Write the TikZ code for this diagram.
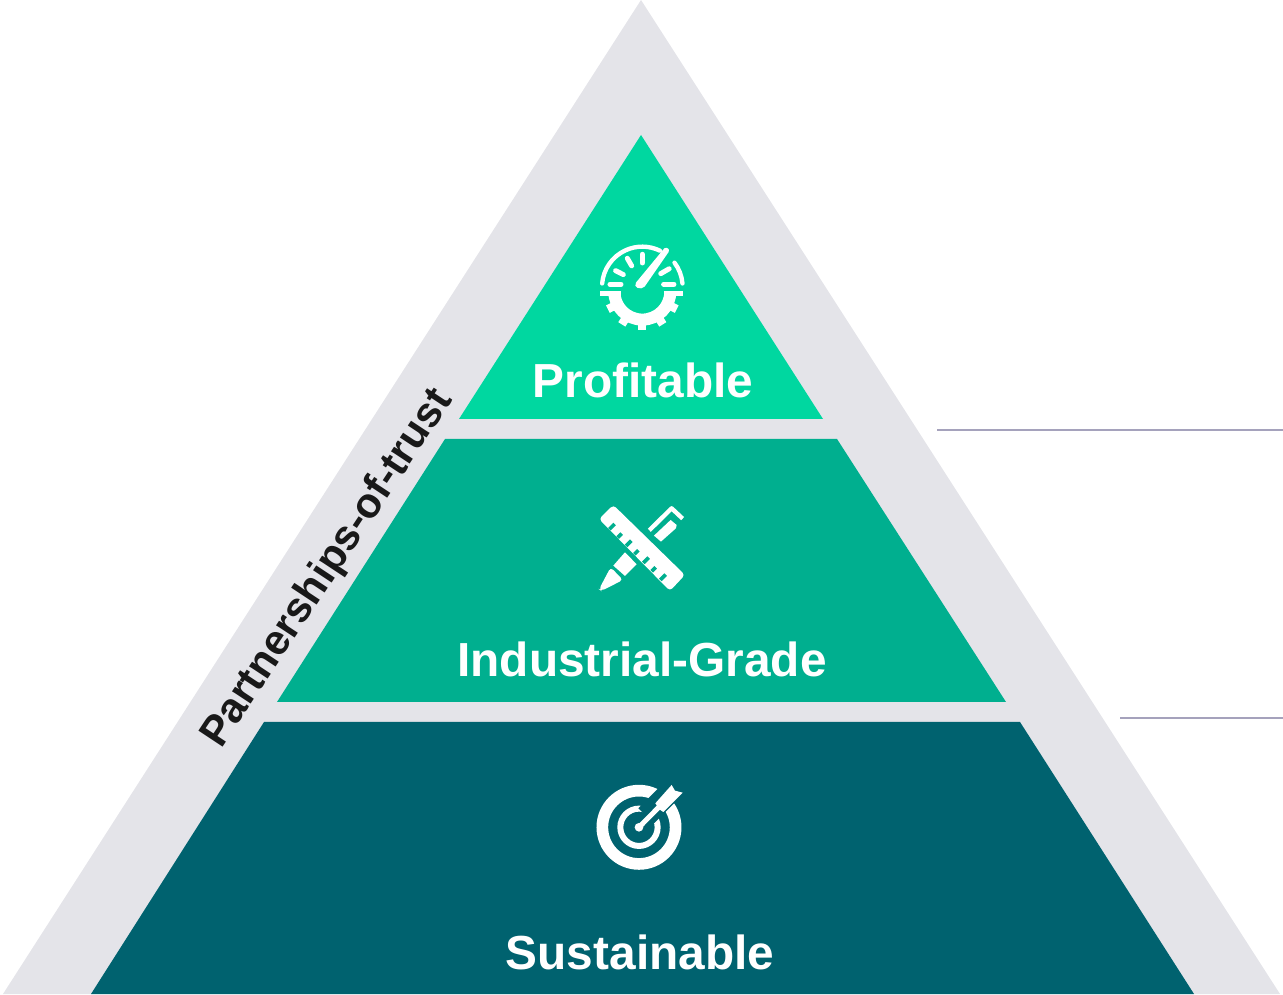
\documentclass[tikz,border=0pt]{standalone}
\usepackage{fontspec}
\setmainfont{Liberation Sans}
\definecolor{pyramidgray}{HTML}{E4E4E9}
\definecolor{topgreen}{HTML}{00D7A0}
\definecolor{midgreen}{HTML}{00AF8F}
\definecolor{lowteal}{HTML}{00626F}
\definecolor{leaderline}{HTML}{A5A2BC}
\tikzset{
	levellabel/.style={text=white, font=\bfseries\fontsize{13.6pt}{16pt}\selectfont, inner sep=0pt, anchor=base},
	sidelabel/.style={text=black!90, font=\bfseries\fontsize{12pt}{15pt}\selectfont, inner sep=0pt, rotate=56.5},
	icon/.style={x=0.01cm/3, y=-0.01cm/3},
	zw/.style={line width=#1*0.0949pt}
}
\begin{document}
\begin{tikzpicture}
		%%%%% START %%%%%
		\useasboundingbox (0, 0) rectangle (12.83, 9.94);
		
		\fill[pyramidgray] (0.03, 0) -- (6.41, 9.94) -- (12.80, 0) -- cycle;
		
		\fill[topgreen] (6.41, 8.59) -- (8.23, 5.75) -- (4.59, 5.75) -- cycle;
		\fill[midgreen] (4.45, 5.55) -- (8.37, 5.55) -- (10.06, 2.92) -- (2.77, 2.92) -- cycle;
		\fill[lowteal] (2.64, 2.72) -- (10.20, 2.72) -- (11.94, 0) -- (0.91, 0) -- cycle;
		
		\node[levellabel] (profitable) at (6.43, 5.96) {Profitable};
		\node[levellabel] (industrial) at (6.42, 3.17) {Industrial-Grade};
		\node[levellabel] (sustainable) at (6.40, 0.245) {Sustainable};
		\node[sidelabel] (partnerships) at (3.28, 4.25) {Partnerships-of-trust};
		
		\coordinate (upperstart) at (9.37, 5.64);
		\coordinate (upperend) at (12.83, 5.64);
		\coordinate (lowerstart) at (11.20, 2.76);
		\coordinate (lowerend) at (12.83, 2.76);
		\draw[line width=0.28mm, color=leaderline] (upperstart) -- (upperend);
		\draw[line width=0.28mm, color=leaderline] (lowerstart) -- (lowerend);
		
		% gauge
		\begin{scope}[shift={(5.80cm, 7.64cm)}, icon, white, line cap=round]
			\draw[zw=13] (187, 171) ++(185:121) arc (185:296:121);
			\draw[zw=13] (187, 171) ++(323:121) arc (323:355:121);
			\foreach \a/\r/\s in {180/64/97, 153/64/90, 120/64/90, 90/64/90, 30/64/93, 0/64/95}
				\draw[zw=15] ({187+\r*cos(\a)}, {163-\r*sin(\a)}) -- ({187+\s*cos(\a)}, {163-\s*sin(\a)});
			\fill (168, 158) -- (253, 55) .. controls (262, 50) and (270, 58) .. (266, 66) -- (194, 170) .. controls (182, 182) and (158, 172) .. cycle;
			\draw[zw=14, line cap=butt] (60, 191) -- (122, 191);
			\draw[zw=14, line cap=butt] (252, 191) -- (310, 191);
			\draw[zw=36, line cap=butt] (103, 185) arc (180:0:84);
			\foreach \a in {207, 238, 270, 302, 333}
				\draw[zw=25, line cap=butt] ({187+90*cos(\a)}, {185-90*sin(\a)}) -- ({187+116*cos(\a)}, {185-116*sin(\a)});
		\end{scope}
		
		% ruler and pencil
		\begin{scope}[shift={(5.80cm, 4.99cm)}, icon]
			\fill[white, rounded corners=1pt] (100, 30) -- (57, 72) -- (270, 288) -- (315, 240) -- cycle;
			\foreach \x/\y/\l in {88/103/16, 113/128/12, 138/153/16, 163/178/12, 190/204/16, 215/229/12, 241/255/16}
				\draw[midgreen, zw=11] (\x, \y) -- ++(\l, -\l);
			\draw[white, zw=13, line join=round] (208, 106) -- (275, 40) -- (308, 71);
			\fill[white] (222, 122) -- (272, 75) -- (290, 90) -- (288, 100) -- (243, 140) -- cycle;
			\fill[white] (100, 212) -- (135, 172) -- (170, 208) -- (135, 243) -- cycle;
			\fill[white, rounded corners=1pt] (57, 283) -- (92, 217) -- (129, 255) -- (64, 288) -- cycle;
		\end{scope}
		
		% target
		\begin{scope}[shift={(5.80cm, 2.24cm)}, icon]
			\draw[white, zw=35] (177, 172) circle (110);
			\draw[white, zw=18] (177, 172) circle (56);
			\fill[lowteal] (175, 115) -- (290, 0) -- (336, 46) -- (221, 161) -- cycle;
			\draw[white, zw=15] (177, 172) -- (240, 108);
			\fill[white] (177, 172) circle (13);
			\fill[white] (226, 100) -- (275, 45) -- (285, 62) -- (308, 68) -- (250, 126) -- (238, 118) -- cycle;
		\end{scope}
		%%%%% END %%%%%
	\end{tikzpicture}
\end{document}
